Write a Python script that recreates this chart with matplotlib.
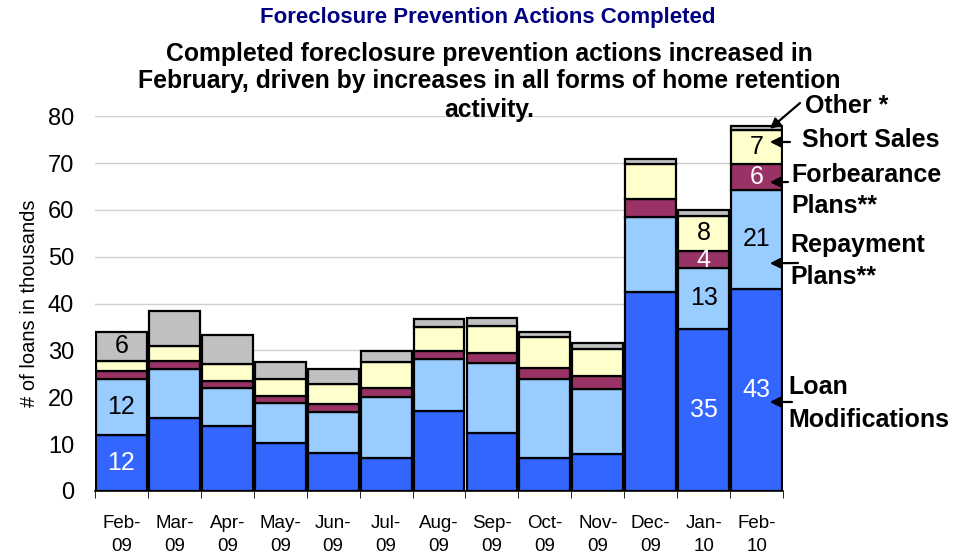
import matplotlib
matplotlib.use("Agg")
import matplotlib.pyplot as plt
import numpy as np

plt.rcParams["font.family"] = ["Liberation Sans", "DejaVu Sans"]

months = ["Feb-\n09", "Mar-\n09", "Apr-\n09", "May-\n09", "Jun-\n09", "Jul-\n09", "Aug-\n09",
          "Sep-\n09", "Oct-\n09", "Nov-\n09", "Dec-\n09", "Jan-\n10", "Feb-\n10"]

# thousands of loans
loan_mods = [12.0, 15.6, 13.9, 10.3, 8.0, 7.1, 17.1, 12.4, 7.0, 7.9, 42.5, 34.6, 43.2]
repayment = [11.9, 10.4, 8.1, 8.4, 8.8, 13.0, 11.0, 15.0, 16.8, 13.8, 16.0, 13.0, 21.0]
forbearance = [1.8, 1.7, 1.5, 1.6, 1.8, 1.8, 1.8, 2.1, 2.5, 2.9, 3.9, 3.6, 5.6]
short_sales = [2.1, 3.2, 3.5, 3.5, 4.2, 5.6, 5.2, 5.7, 6.5, 5.6, 7.4, 7.6, 7.2]
other = [6.2, 7.6, 6.3, 3.8, 3.2, 2.4, 1.7, 1.8, 1.2, 1.4, 1.0, 1.1, 1.0]

# which segments carry a value label
lm_labels = ["12", "", "", "", "", "", "", "", "", "", "", "35", "43"]
rp_labels = ["12", "", "", "", "", "", "", "", "", "", "", "13", "21"]
fb_labels = ["", "", "", "", "", "", "", "", "", "", "", "4", "6"]
ss_labels = ["", "", "", "", "", "", "", "", "", "", "", "8", "7"]
ot_labels = ["6", "", "", "", "", "", "", "", "", "", "", "", ""]

subtitle = ["Completed foreclosure prevention actions increased in",
            "February, driven by increases in all forms of home retention",
            "activity."]

series = [
    (loan_mods, "#3366FF", lm_labels, "white"),
    (repayment, "#99CCFF", rp_labels, "black"),
    (forbearance, "#993366", fb_labels, "white"),
    (short_sales, "#FFFFCC", ss_labels, "black"),
    (other, "#C0C0C0", ot_labels, "black"),
]

fig = plt.figure(figsize=(9.74, 5.56), dpi=100)
ax = fig.add_axes([0.0975, 0.117, 0.7065, 0.674])

x = np.arange(len(months))
bottom = np.zeros(len(months))
for vals, color, labels, tcolor in series:
    vals = np.array(vals)
    ax.bar(x, vals, bottom=bottom, width=0.96, color=color,
           edgecolor="black", linewidth=1.6, zorder=3)
    for i, lab in enumerate(labels):
        if lab:
            ax.text(x[i], bottom[i] + vals[i] / 2, lab, ha="center", va="center",
                    fontsize=18, color=tcolor, zorder=4)
    bottom += vals

ax.set_xlim(-0.5, len(months) - 0.5)
ax.set_ylim(0, 80)
ax.set_yticks(range(0, 81, 10))
ax.yaxis.grid(True, color="#D0D0D0", linewidth=1, zorder=0)
ax.tick_params(axis="y", length=0, pad=15, labelsize=17)
for s in ["top", "right", "left"]:
    ax.spines[s].set_visible(False)
ax.spines["bottom"].set_linewidth(1.2)

ax.set_xticks(x)
ax.set_xticklabels(months, fontsize=13.5, linespacing=1.5)
ax.tick_params(axis="x", length=0, pad=17)
ax.set_xticks(np.arange(-0.5, len(months), 1), minor=True)
ax.tick_params(axis="x", which="minor", length=5, color="black")

ax.set_ylabel("# of loans in thousands", fontsize=14.5)
ax.yaxis.set_label_coords(-0.082, 0.5)

fig.text(0.501, 1 - 17 / 556, "Foreclosure Prevention Actions Completed", ha="center", va="center",
         fontsize=16, fontweight="bold", color="#000080")
for line, base in zip(subtitle, [61, 88, 117]):
    fig.text(0.502, 1 - base / 556, line, ha="center", va="baseline",
             fontsize=17.8, fontweight="bold")

# legend-style callouts on the right: text lines with their pixel rows
arrow = dict(arrowstyle="-|>", color="black", lw=1.6, mutation_scale=15, shrinkA=0, shrinkB=0)
last = len(months) - 1
callouts = [
    (["Other *"], [106], 77.3, (800, 103), 805),
    (["Short Sales"], [140], 74.5, (790, 142), 802),
    (["Forbearance", "Plans**"], [175, 206], 65.9, (788, 182), 791),
    (["Repayment", "Plans**"], [245, 277], 48.6, (798, 263), 790),
    (["Loan", "Modifications"], [387, 420], 19.0, (792, 402), 788),
]
for lines, rows, yv, tail, tx in callouts:
    ax.annotate("", xy=(last + 0.25, yv), xycoords="data",
                xytext=(tail[0], 556 - tail[1]), textcoords="figure pixels",
                arrowprops=arrow, annotation_clip=False, zorder=5)
    for line, row in zip(lines, rows):
        fig.text(tx / 974, 1 - row / 556, line, ha="left", va="center",
                 fontsize=18, fontweight="bold")

fig.savefig("out.png", dpi=100)
